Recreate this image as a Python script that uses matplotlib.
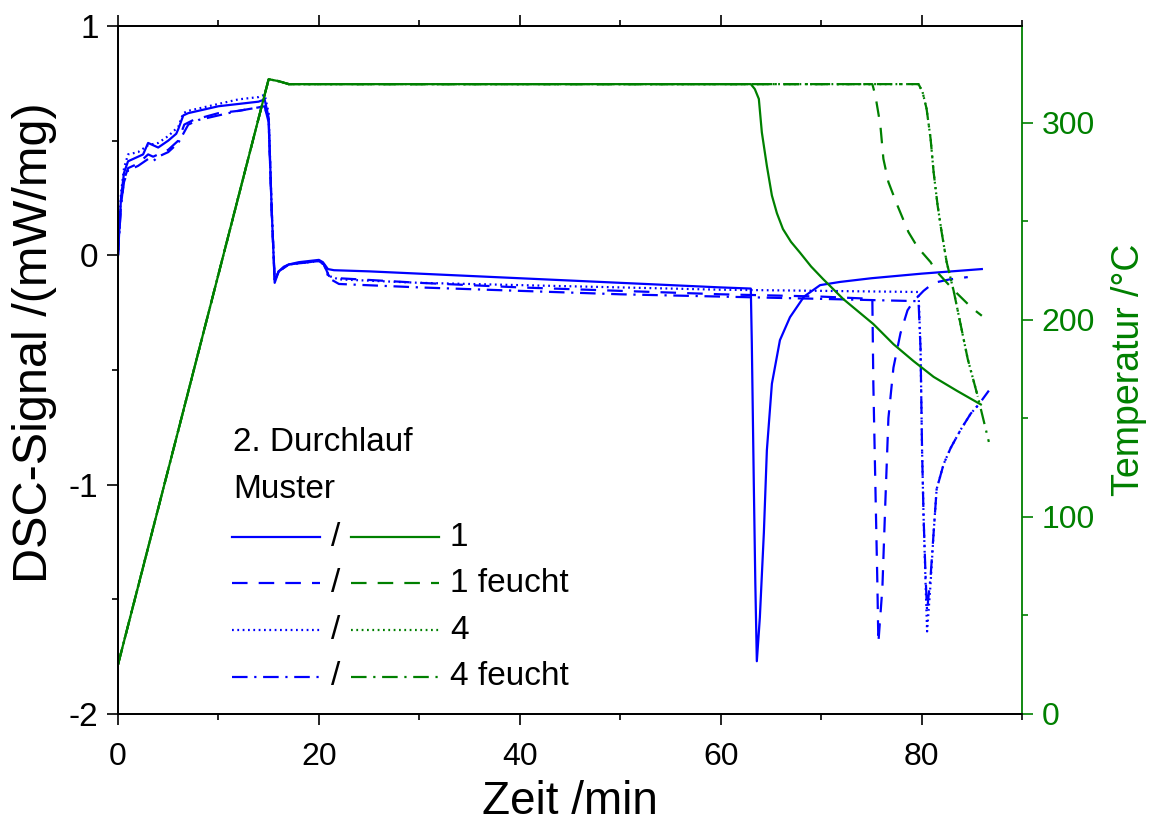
import matplotlib.pyplot as plt
from matplotlib.ticker import MultipleLocator

plt.rcParams['font.family'] = ['Liberation Sans', 'DejaVu Sans']

BLUE = '#0000ff'
GREEN = '#008000'

# DSC-Signal (mW/mg) over Zeit (min)
t_dsc1 = [0, 0.3, 0.6, 1.0, 1.5, 2.0, 2.5, 3.0, 3.5, 4.0, 5.0, 5.8, 6.0, 6.5, 7.0, 8, 10, 12, 14,
          14.6, 15.0, 15.3, 15.6, 16.0, 16.5, 17, 18, 19, 20, 20.4, 20.9, 21.5, 25, 30, 40, 50, 60,
          63.0, 63.1, 63.3, 63.45, 63.6, 63.9, 64.3, 64.6, 65.1, 65.9, 66.9, 68.3, 69.9, 71.9, 75,
          80, 86]
v_dsc1 = [0, 0.25, 0.36, 0.41, 0.42, 0.43, 0.44, 0.49, 0.48, 0.47, 0.50, 0.53, 0.55, 0.61, 0.62, 0.63,
          0.65, 0.66, 0.67, 0.68, 0.60, 0.20, -0.12, -0.07, -0.05, -0.04, -0.03, -0.025, -0.02, -0.03,
          -0.06, -0.065, -0.07, -0.08, -0.10, -0.12, -0.14, -0.145, -0.38, -1.0, -1.43, -1.77, -1.58,
          -1.21, -0.85, -0.56, -0.37, -0.27, -0.18, -0.13, -0.116, -0.10, -0.08, -0.06]

t_dsc1f = [0, 0.3, 0.6, 1.0, 2.0, 3.0, 3.5, 4.0, 5.0, 6.0, 6.6, 7.5, 10, 12, 14, 14.6, 15.0, 15.3,
           15.6, 16.0, 17, 19, 20, 20.5, 21.0, 22, 30, 40, 50, 60, 70, 75.1, 75.2, 75.4, 75.6, 75.7,
           76.1, 76.4, 76.7, 77.2, 77.9, 78.6, 79.2, 80.2, 81.2, 82.8, 84.6]
v_dsc1f = [0, 0.22, 0.33, 0.38, 0.40, 0.44, 0.43, 0.44, 0.46, 0.50, 0.57, 0.59, 0.62, 0.63, 0.645,
           0.65, 0.58, 0.20, -0.11, -0.07, -0.04, -0.03, -0.025, -0.04, -0.09, -0.10, -0.12, -0.14,
           -0.155, -0.17, -0.18, -0.19, -0.56, -1.0, -1.43, -1.69, -1.45, -1.07, -0.71, -0.49, -0.34,
           -0.24, -0.20, -0.155, -0.12, -0.105, -0.095]

t_dsc4 = [0, 0.3, 0.6, 1.0, 2.0, 3.0, 4.0, 5.0, 6.0, 6.5, 7.0, 8, 10, 12, 14, 14.6, 15.0, 15.3, 15.6,
          16.0, 17, 19, 20, 20.5, 21.0, 22, 30, 40, 50, 60, 70, 79.7, 79.9, 80.05, 80.2, 80.4, 80.55,
          80.9, 81.2, 81.5, 82.2, 82.9, 83.9, 84.9, 85.7]
v_dsc4 = [0, 0.27, 0.38, 0.44, 0.45, 0.48, 0.49, 0.52, 0.56, 0.62, 0.63, 0.64, 0.66, 0.68, 0.69, 0.70,
          0.62, 0.20, -0.11, -0.07, -0.04, -0.03, -0.025, -0.04, -0.09, -0.105, -0.12, -0.13, -0.14,
          -0.15, -0.155, -0.16, -0.41, -0.85, -1.14, -1.43, -1.64, -1.43, -1.21, -1.02, -0.91, -0.84,
          -0.76, -0.69, -0.65]

t_dsc4f = [0, 0.3, 0.6, 1.0, 2.0, 3.0, 3.5, 4.0, 5.0, 6.0, 7.0, 8, 10, 12, 14, 14.6, 15.0, 15.3, 15.6,
           16.0, 17, 19, 20, 20.5, 21.0, 22, 30, 40, 50, 60, 70, 79.7, 79.9, 80.05, 80.2, 80.4, 80.55,
           80.9, 81.2, 81.5, 82.2, 82.9, 83.9, 84.9, 85.7, 86.7]
v_dsc4f = [0, 0.22, 0.32, 0.37, 0.39, 0.42, 0.41, 0.43, 0.45, 0.49, 0.57, 0.59, 0.61, 0.63, 0.645,
           0.65, 0.58, 0.20, -0.11, -0.07, -0.04, -0.03, -0.025, -0.04, -0.10, -0.125, -0.14, -0.155,
           -0.17, -0.18, -0.19, -0.20, -0.41, -0.85, -1.14, -1.40, -1.55, -1.40, -1.21, -1.02, -0.91,
           -0.84, -0.76, -0.69, -0.65, -0.59]

# Temperatur (°C) over Zeit (min)
t_tmp1 = [0, 15, 16, 17, 20, 63.0, 63.4, 63.8, 64.1, 64.6, 65.1, 65.6, 66.2, 67.0, 67.9, 69.0,
          70.2, 72.2, 75.2, 77.2, 79.2, 81.2, 83.5, 85.9]
T_tmp1 = [25, 322, 321, 319.5, 319.5, 319.5, 317, 312, 295, 278, 263, 254, 246, 239.5, 234, 227,
          220.6, 210.5, 197.8, 187.6, 179, 171, 164, 157]

t_tmp1f = [0, 15, 16, 17, 20, 75.1, 75.4, 75.9, 76.2, 76.7, 77.6, 78.7, 79.6, 80.9, 81.4, 83.2,
           85.0, 86.0]
T_tmp1f = [25, 322, 321, 319.5, 319.5, 319.5, 313.8, 298.6, 281.6, 269.8, 257.9, 244.4, 236.8,
           229.2, 225, 215, 206, 202]

t_tmp4 = [0, 15, 16, 17, 20, 79.7, 80.1, 80.5, 80.9, 81.2, 81.6, 82.0, 82.5, 83.2, 84.6, 85.6]
T_tmp4 = [25, 322, 321, 319.5, 319.5, 319.5, 315.5, 307, 291.8, 274.9, 257.9, 244.4, 229.2, 214.5,
          180, 161]

t_tmp4f = [0, 15, 16, 17, 20, 79.7, 80.1, 80.5, 80.9, 81.2, 81.6, 82.0, 82.5, 83.2, 84.6, 85.6, 86.7]
T_tmp4f = [25, 322, 321, 319.5, 319.5, 319.5, 315.5, 307, 291.8, 274.9, 257.9, 244.4, 229.2, 214.5,
           180, 161, 138]

labels = ['1', '1 feucht', '4', '4 feucht']

LW = 1.6
styles = [dict(linestyle='-'),
          dict(linestyle=(0, (7, 5))),
          dict(linestyle=(0, (0.8, 1.6))),
          dict(linestyle=(0, (7, 3, 1, 3)))]

fig = plt.figure(figsize=(11.5, 8.3), dpi=100)
ax = fig.add_axes([0.1026, 0.1398, 0.7861, 0.8289])
ax2 = ax.twinx()

dsc = [(t_dsc1, v_dsc1), (t_dsc1f, v_dsc1f), (t_dsc4, v_dsc4), (t_dsc4f, v_dsc4f)]
tmp = [(t_tmp1, T_tmp1), (t_tmp1f, T_tmp1f), (t_tmp4, T_tmp4), (t_tmp4f, T_tmp4f)]

for (t, v), st in zip(dsc, styles):
    ax.plot(t, v, color=BLUE, lw=LW, **st)
for (t, T), st in zip(tmp, styles):
    ax2.plot(t, T, color=GREEN, lw=LW, **st)

ax.set_xlim(0, 90)
ax.set_ylim(-2, 1)
ax2.set_ylim(0, 349)

ax.xaxis.set_major_locator(MultipleLocator(20))
ax.xaxis.set_minor_locator(MultipleLocator(10))
ax.set_yticks([-2, -1, 0, 1])
ax.set_yticklabels(['-2', '-1', '0', '1'])
ax.yaxis.set_minor_locator(MultipleLocator(0.5))
ax2.yaxis.set_major_locator(MultipleLocator(100))
ax2.yaxis.set_minor_locator(MultipleLocator(50))

ax.tick_params(axis='x', which='both', direction='out', top=True, labelsize=23, pad=12)
ax.tick_params(axis='y', which='both', direction='out', right=False, labelsize=24, pad=6)
ax.tick_params(which='major', length=8, width=1.2)
ax.tick_params(which='minor', length=4.5, width=1.2)
ax2.tick_params(axis='y', which='both', colors=GREEN, labelcolor=GREEN, labelsize=23, pad=6, width=1.2)
ax2.tick_params(which='major', length=8)
ax2.tick_params(which='minor', length=4.5)

for s in ax.spines.values():
    s.set_linewidth(1.3)
ax.spines['right'].set_visible(False)
for s in ax2.spines.values():
    s.set_linewidth(1.3)
ax2.spines['right'].set_color(GREEN)

ax.set_xlabel('Zeit /min', fontsize=33, labelpad=6)
ax.set_ylabel('DSC-Signal /(mW/mg)', fontsize=35)
ax.yaxis.set_label_coords(-0.068, 0.54)
ax2.set_ylabel('Temperatur /°C', fontsize=27, color=GREEN, labelpad=12)

# hand-made legend in axes coordinates
tr = ax.transAxes
ax.text(0.127, 0.395, '2. Durchlauf', transform=tr, fontsize=24, va='center', ha='left')
ax.text(0.127, 0.326, 'Muster', transform=tr, fontsize=24, va='center', ha='left')
rows_y = [0.257, 0.190, 0.122, 0.054]
for y, st, lab in zip(rows_y, styles, labels):
    ax.plot([0.126, 0.224], [y, y], transform=tr, color=BLUE, lw=LW, **st)
    ax.text(0.241, y, '/', transform=tr, fontsize=24, va='center', ha='center')
    ax.plot([0.258, 0.355], [y, y], transform=tr, color=GREEN, lw=LW, **st)
    ax.text(0.367, y, lab, transform=tr, fontsize=24, va='center', ha='left')

fig.savefig('out.png', dpi=100)
